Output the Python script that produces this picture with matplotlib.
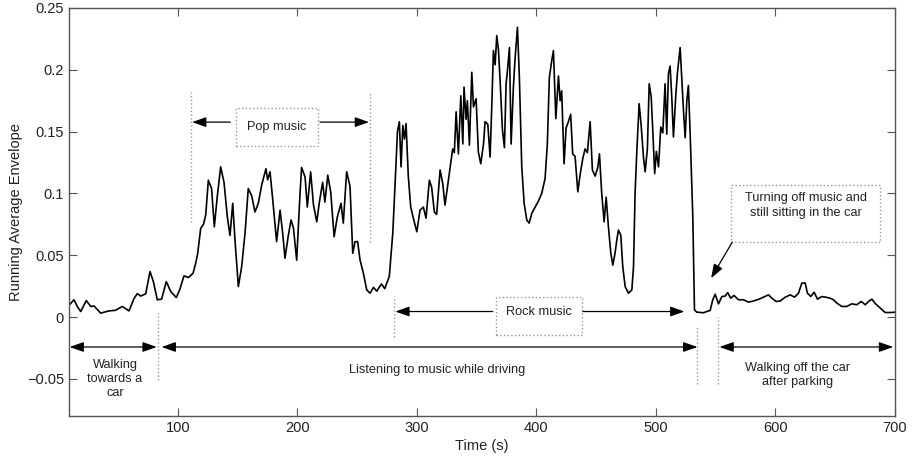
import matplotlib
matplotlib.use("Agg")
import matplotlib.pyplot as plt
from matplotlib.patches import Rectangle
from matplotlib.ticker import FixedLocator

plt.rcParams['font.family'] = ['Liberation Sans', 'DejaVu Sans']

# ---- data ----
time_s = [9, 13.2, 16, 18.8, 23.5, 27.2, 30, 35.5, 42.5, 48, 53.6, 59.2, 63.4, 66.2, 69, 73.2,
          76.8, 79.6, 82.9, 86.5, 90.4, 94.1, 98.8, 101.6, 105.2, 109, 112.8, 115, 116.7, 119.2,
          121.5, 123.4, 125.6, 128.3, 130.6, 133, 135.9, 138.7, 141.5, 143.7, 146, 147.9, 150.7,
          153.5, 156.3, 159, 161.9, 164.6, 167.4, 170.2, 173.8, 175.2, 177.2, 179.5, 182.7, 185.6,
          187.8, 189.7, 192.5, 194.8, 196.8, 199.5, 202.3, 203.6, 206.5, 208.4, 211.2, 213.5,
          216.3, 218.5, 221.2, 223.1, 225.5, 228, 230.8, 233.5, 236.6, 238.5, 241.3, 244.1, 246.4,
          248.3, 250.5, 252.5, 255.3, 258.1, 260.9, 263.7, 266.5, 270.4, 273.2, 277, 279.9, 281.8,
          283.8, 285.4, 286.8, 288.3, 289.7, 291, 292.9, 294.9, 297.1, 300, 302.7, 305.5, 307.7,
          310.5, 312.4, 314.7, 316.6, 319.5, 321.7, 323.6, 327.2, 330, 331.4, 332.9, 334.8, 336.8,
          338.5, 339.5, 341.2, 342.3, 344, 346, 347.4, 349.6, 351.5, 353.5, 355.8, 357.1, 359.4,
          361.3, 362.7, 364.1, 365.5, 366.9, 368.3, 369.7, 371.6, 373.3, 374.7, 376.1, 377.5,
          378.9, 380.8, 382.2, 384.2, 385.8, 387.8, 389.8, 392, 394, 396.2, 399, 401.8, 404.5,
          407.3, 409.2, 410.9, 412.9, 414.3, 416.3, 418.5, 419.9, 421.2, 423.2, 424.9, 426.8,
          428.7, 430.4, 432.4, 434.7, 436.6, 438.8, 440.8, 442.7, 445, 446.9, 449.2, 451.4, 452.8,
          454.7, 456.7, 458.4, 460.3, 462.3, 464, 465.9, 467.3, 468.7, 470.7, 472.3, 474.3, 477.1,
          479.9, 481.3, 482.6, 484.1, 486, 487.7, 489.6, 491, 492.9, 494.4, 496.1, 497.5, 499,
          500.4, 502.2, 504.1, 505.8, 507.7, 509.1, 510.5, 511.9, 513.3, 514.7, 516.7, 518.1,
          520.3, 521.7, 523.1, 524.5, 525.9, 527.2, 528.7, 530.9, 532.3, 534.2, 539.8, 544, 545.4,
          547.6, 549.6, 552.4, 555.2, 558, 560.1, 562.6, 565.4, 569.1, 573.3, 577.5, 581.6, 585.8,
          590, 594.2, 597, 600.6, 604, 608.2, 612.4, 616, 619.3, 622.1, 624.9, 626.8, 629.6, 632.4,
          635.2, 638.8, 642.5, 645.8, 648.6, 651.4, 655.6, 659.7, 663.9, 668.1, 671.8, 675.2,
          677.9, 680.7, 683.5, 687.7, 691.8, 697.4, 700]
envelope = [0.0095, 0.014, 0.0085, 0.0045, 0.0134, 0.0086, 0.009, 0.0032, 0.005, 0.0055, 0.0086,
            0.005, 0.015, 0.019, 0.017, 0.0188, 0.0368, 0.0287, 0.014, 0.0145, 0.0287, 0.0207,
            0.0158, 0.022, 0.0333, 0.032, 0.0355, 0.0435, 0.0516, 0.0718, 0.075, 0.0825, 0.1107,
            0.104, 0.073, 0.097, 0.1215, 0.109, 0.081, 0.066, 0.092, 0.062, 0.0247, 0.041, 0.068,
            0.104, 0.098, 0.085, 0.092, 0.1067, 0.12, 0.111, 0.1175, 0.0946, 0.061, 0.0865, 0.0677,
            0.0476, 0.066, 0.0785, 0.072, 0.046, 0.1, 0.121, 0.1134, 0.089, 0.1174, 0.091, 0.077,
            0.093, 0.109, 0.093, 0.1148, 0.101, 0.065, 0.081, 0.092, 0.076, 0.1175, 0.106, 0.0516,
            0.061, 0.061, 0.0462, 0.0355, 0.022, 0.0193, 0.024, 0.021, 0.0268, 0.023, 0.033, 0.068,
            0.107, 0.150, 0.158, 0.1215, 0.155, 0.144, 0.1565, 0.1134, 0.089, 0.08, 0.069, 0.0865,
            0.089, 0.08, 0.1107, 0.105, 0.085, 0.083, 0.119, 0.108, 0.0906, 0.116, 0.136, 0.133,
            0.166, 0.132, 0.179, 0.14, 0.186, 0.16, 0.175, 0.139, 0.198, 0.17, 0.1766, 0.1335,
            0.124, 0.14, 0.158, 0.156, 0.1295, 0.17, 0.2156, 0.204, 0.2277, 0.216, 0.191, 0.152,
            0.137, 0.1887, 0.202, 0.218, 0.14, 0.186, 0.209, 0.2344, 0.194, 0.1215, 0.092, 0.0785,
            0.076, 0.0839, 0.089, 0.094, 0.1, 0.112, 0.14, 0.194, 0.2075, 0.2156, 0.1605, 0.195,
            0.175, 0.183, 0.124, 0.153, 0.158, 0.164, 0.132, 0.13, 0.1013, 0.115, 0.128, 0.136,
            0.133, 0.158, 0.119, 0.114, 0.121, 0.132, 0.1, 0.077, 0.097, 0.073, 0.0516, 0.042,
            0.052, 0.0623, 0.0704, 0.066, 0.0408, 0.0247, 0.0193, 0.022, 0.041, 0.1, 0.135, 0.1726,
            0.155, 0.1295, 0.1175, 0.136, 0.1887, 0.178, 0.149, 0.116, 0.134, 0.1215, 0.1537,
            0.149, 0.1887, 0.148, 0.1968, 0.203, 0.178, 0.1457, 0.18, 0.198, 0.218, 0.193, 0.167,
            0.145, 0.175, 0.1873, 0.148, 0.081, 0.0059, 0.004, 0.0035, 0.005, 0.0053, 0.014,
            0.0185, 0.0107, 0.0166, 0.017, 0.0198, 0.0153, 0.0175, 0.014, 0.014, 0.0121, 0.013,
            0.0143, 0.0161, 0.018, 0.0153, 0.0126, 0.013, 0.0161, 0.018, 0.0161, 0.0193, 0.0274,
            0.0276, 0.0193, 0.0166, 0.0201, 0.0145, 0.0166, 0.016, 0.0153, 0.014, 0.0113, 0.0086,
            0.0086, 0.0107, 0.01, 0.0126, 0.01, 0.0126, 0.0145, 0.011, 0.0073, 0.0037, 0.0037, 0.004]

x_ticks = [100, 200, 300, 400, 500, 600, 700]
y_ticks = [-0.05, 0, 0.05, 0.1, 0.15, 0.2, 0.25]
y_tick_labels = ['\u22120.05', '0', '0.05', '0.1', '0.15', '0.2', '0.25']

fig = plt.figure(figsize=(9.16, 4.59), dpi=100)
ax = fig.add_axes([0.0753, 0.0937, 0.9017, 0.8889])

ax.plot(time_s, envelope, color='black', linewidth=1.2)

ax.set_xlim(9, 700)
ax.set_ylim(-0.08, 0.25)
ax.xaxis.set_major_locator(FixedLocator(x_ticks))
ax.yaxis.set_major_locator(FixedLocator(y_ticks))
ax.set_yticklabels(y_tick_labels)
ax.tick_params(direction='in', top=True, right=True, length=6, width=0.8,
               color='#555555', labelsize=10.5, labelcolor='#222222')
for s in ax.spines.values():
    s.set_color('#555555')
    s.set_linewidth(1.0)
ax.set_xlabel('Time (s)', fontsize=10.5, color='#222222', labelpad=3)
ax.set_ylabel('Running Average Envelope', fontsize=10.5, color='#222222', labelpad=3)

dot = dict(color='#999999', linestyle=':', linewidth=1.0)
fs = 9.2
txtc = '#222222'

def arrow(x0, y0, x1, y1, style='-|>'):
    ax.annotate('', xy=(x1, y1), xytext=(x0, y0),
                arrowprops=dict(arrowstyle=style + ',head_length=0.85,head_width=0.3',
                                color='black', lw=0.9, shrinkA=0, shrinkB=0))

def dbox(x0, x1, y0, y1):
    ax.add_patch(Rectangle((x0, y0), x1 - x0, y1 - y0, fill=False,
                           edgecolor='#999999', linestyle=':', linewidth=1.0))

# Pop music
ax.plot([111, 111], [0.077, 0.182], **dot)
ax.plot([261, 261], [0.061, 0.182], **dot)
dbox(148.7, 217.4, 0.138, 0.169)
ax.text(182.7, 0.1535, 'Pop music', ha='center', va='center', fontsize=fs, color=txtc)
arrow(144, 0.1577, 112, 0.1577)
arrow(219, 0.1577, 260, 0.1577)

# Rock music
ax.plot([281.2, 281.2], [-0.016, 0.0174], **dot)
dbox(366.3, 438.3, -0.0148, 0.016)
ax.text(402.3, 0.0045, 'Rock music', ha='center', va='center', fontsize=fs, color=txtc)
arrow(363.5, 0.0045, 282, 0.0045)
arrow(438.9, 0.0045, 523.9, 0.0045)

# Turning off music
dbox(563, 687.7, 0.0605, 0.1067)
ax.text(625.3, 0.090, 'Turning off music and\nstill sitting in the car', ha='center',
        va='center', fontsize=fs, color=txtc, linespacing=1.3)
arrow(563.8, 0.0605, 546.2, 0.0314)

# Bottom phases
ax.plot([83.2, 83.2], [-0.051, 0.004], **dot)
ax.plot([534.7, 534.7], [-0.054, -0.0068], **dot)
ax.plot([551.8, 551.8], [-0.054, 0.0], **dot)
arrow(9.5, -0.0242, 82.4, -0.0242, '<|-|>')
arrow(86.5, -0.0242, 534.7, -0.0242, '<|-|>')
arrow(553.2, -0.0242, 698.5, -0.0242, '<|-|>')
ax.text(47.5, -0.050, 'Walking\ntowards a\ncar', ha='center', va='center',
        fontsize=fs, color=txtc, linespacing=1.25)
ax.text(316.6, -0.043, 'Listening to music while driving', ha='center', va='center',
        fontsize=fs, color=txtc)
ax.text(618.7, -0.047, 'Walking off the car\nafter parking', ha='center', va='center',
        fontsize=fs, color=txtc, linespacing=1.25)

fig.savefig('out.png', dpi=100)
